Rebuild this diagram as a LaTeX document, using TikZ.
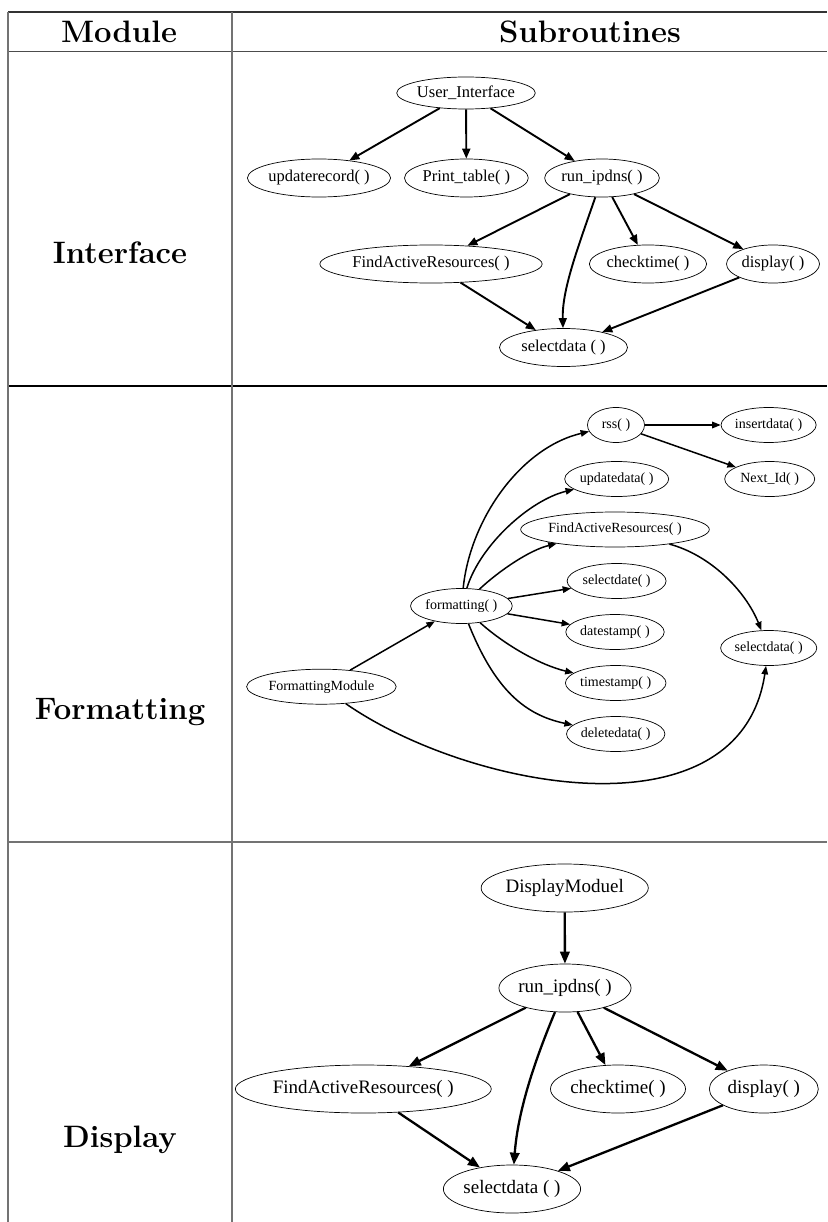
\documentclass[tikz,border=0pt]{standalone}
\usepackage{fontspec}
\newfontfamily\gv{Liberation Serif}
\usetikzlibrary{shapes.geometric,arrows.meta}
\begin{document}
\begin{tikzpicture}[x=1pt,y=-1pt,
  ell/.style={ellipse,draw,line width=0.7pt,inner sep=0pt},
  ellI/.style={ell,minimum height=38pt,font=\gv\fontsize{16.5}{18}\selectfont},
  ellF/.style={ell,minimum height=35pt,font=\gv\fontsize{14}{16}\selectfont},
  ellD/.style={ell,minimum height=48pt,font=\gv\fontsize{19}{22}\selectfont},
  edgeI/.style={line width=1.9pt,-{Triangle[length=10pt,width=8pt]}},
  edgeF/.style={line width=1.5pt,-{Triangle[length=8.5pt,width=6.5pt]}},
  edgeD/.style={line width=2.3pt,-{Triangle[length=12pt,width=9.5pt]}},
  hdr/.style={font=\bfseries\fontsize{31}{34}\selectfont},
  rowlbl/.style={font=\bfseries\fontsize{31}{36}\selectfont},
  rule/.style={line width=1.3pt}
]
\useasboundingbox (0,0) rectangle (827,1222);
% table rules
\draw[rule,black!80] (8,12) -- (827,12);
\draw[rule,black!70] (8,51.5) -- (827,51.5);
\draw[rule,black] (8,386) -- (827,386);
\draw[rule,black!55] (8,842) -- (827,842);
\draw[rule,black!55] (8,12) -- (8,1222);
\draw[rule,black!55] (232,12) -- (232,1222);
% headers and labels
\node[hdr] (hm) at (119,32) {Module};
\node[hdr] (hs) at (590,32) {Subroutines};
\node[rowlbl] (li) at (120,253) {Interface};
\node[rowlbl] (lf) at (120,712) {Formatting};
\node[rowlbl] (ld) at (120,1140) {Display};
% Interface graph
\node[ellI,minimum width=133pt,minimum height=32pt] (uiI) at (466,93) {User\_Interface};
\node[ellI,minimum width=134pt] (updI) at (319,178) {updaterecord( )};
\node[ellI,minimum width=120pt] (ptI) at (466.4,178) {Print\_table( )};
\node[ellI,minimum width=112pt] (runI) at (602,178) {run\_ipdns( )};
\node[ellI,minimum width=189pt] (faI) at (431,264) {FindActiveResources( )};
\node[ellI,minimum width=115pt] (ctI) at (648,264) {checktime( )};
\node[ellI,minimum width=93pt] (dpI) at (773,264) {display( )};
\node[ellI,minimum width=128pt] (selI) at (563.5,347.5) {selectdata ( )};
\draw[edgeI] (uiI) -- (updI);
\draw[edgeI] (uiI) -- (ptI);
\draw[edgeI] (uiI) -- (runI);
\draw[edgeI] (runI) -- (faI);
\draw[edgeI] (runI) .. controls (577,250) and (562,290) .. (selI);
\draw[edgeI] (runI) -- (ctI);
\draw[edgeI] (runI) -- (dpI);
\draw[edgeI] (faI) -- (selI);
\draw[edgeI] (dpI) -- (selI);
% Formatting graph
\node[ellF,minimum width=57pt] (rssF) at (616,425) {rss( )};
\node[ellF,minimum width=95pt] (insF) at (768.6,425) {insertdata( )};
\node[ellF,minimum width=104pt] (updF) at (616.7,479) {updatedata( )};
\node[ellF,minimum width=90pt] (nidF) at (769.7,479) {Next\_Id( )};
\node[ellF,minimum width=161pt] (faF) at (615,529.5) {FindActiveResources( )};
\node[ellF,minimum width=99pt] (sdF) at (616.6,581) {selectdate( )};
\node[ellF,minimum width=97pt] (fmtF) at (461.4,606) {formatting( )};
\node[ellF,minimum width=98pt] (dsF) at (615,632) {datestamp( )};
\node[ellF,minimum width=96pt] (selF) at (768.7,648) {selectdata( )};
\node[ellF,minimum width=98pt] (tsF) at (615.7,683) {timestamp( )};
\node[ellF,minimum width=133pt] (fmF) at (321.4,686.7) {FormattingModule};
\node[ellF,minimum width=98pt] (ddF) at (615.7,734) {deletedata( )};
\draw[edgeF] (fmF) -- (fmtF);
\draw[edgeF] (fmF) .. controls (470,790) and (740,840) .. (selF);
\draw[edgeF] (fmtF) .. controls (470,520) and (520,448) .. (rssF);
\draw[edgeF] (fmtF) .. controls (480,545) and (530,500) .. (updF);
\draw[edgeF] (fmtF) .. controls (500,570) and (530,550) .. (faF);
\draw[edgeF] (fmtF) -- (sdF);
\draw[edgeF] (fmtF) -- (dsF);
\draw[edgeF] (fmtF) .. controls (505,645) and (540,665) .. (tsF);
\draw[edgeF] (fmtF) .. controls (495,690) and (525,715) .. (ddF);
\draw[edgeF] (faF) .. controls (710,555) and (745,590) .. (selF);
\draw[edgeF] (rssF) -- (insF);
\draw[edgeF] (rssF) -- (nidF);
% Display graph
\node[ellD,minimum width=157pt] (dmD) at (564.7,888) {DisplayModuel};
\node[ellD,minimum width=131pt] (runD) at (565,988) {run\_ipdns( )};
\node[ellD,minimum width=219pt] (faD) at (363.3,1089) {FindActiveResources( )};
\node[ellD,minimum width=134pt] (ctD) at (618,1089) {checktime( )};
\node[ellD,minimum width=109pt] (dpD) at (763.8,1089) {display( )};
\node[ellD,minimum width=137pt] (selD) at (512,1189) {selectdata ( )};
\draw[edgeD] (dmD) -- (runD);
\draw[edgeD] (runD) -- (faD);
\draw[edgeD] (runD) .. controls (535,1060) and (518,1110) .. (selD);
\draw[edgeD] (runD) -- (ctD);
\draw[edgeD] (runD) -- (dpD);
\draw[edgeD] (faD) -- (selD);
\draw[edgeD] (dpD) -- (selD);
\end{tikzpicture}
\end{document}
